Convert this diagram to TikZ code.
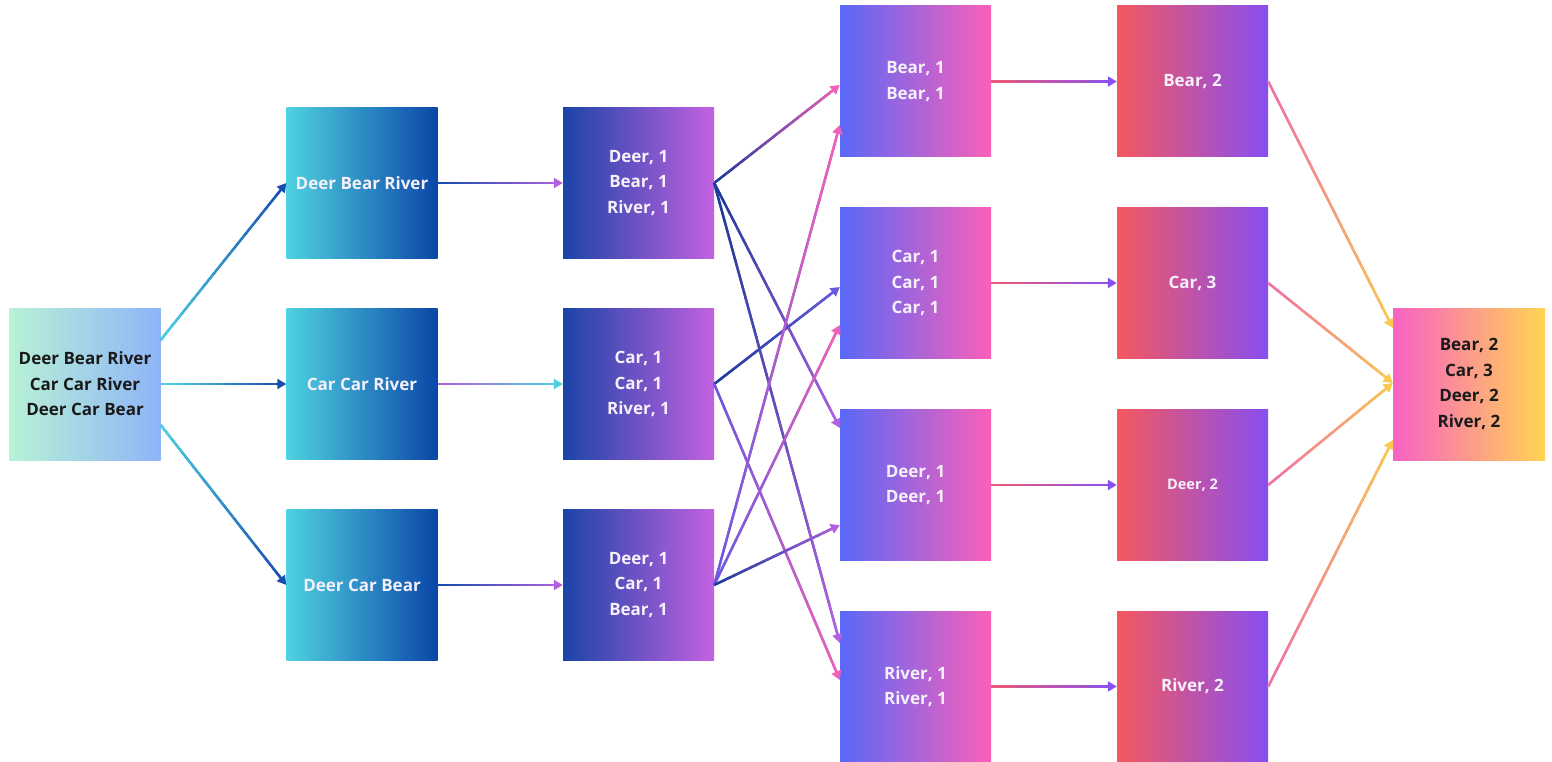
\documentclass[tikz,border=0pt]{standalone}
\usepackage{fontspec}
\setmainfont{Open Sans}
\usetikzlibrary{arrows.meta,calc}
\definecolor{inL}{HTML}{B8F2D6}
\definecolor{inR}{HTML}{8EB4F8}
\definecolor{spL}{HTML}{4ED2E0}
\definecolor{spR}{HTML}{0B46A8}
\definecolor{mpL}{HTML}{1A44A8}
\definecolor{mpR}{HTML}{C462E2}
\definecolor{shL}{HTML}{5A68F8}
\definecolor{shR}{HTML}{FA60B8}
\definecolor{rdL}{HTML}{F4585E}
\definecolor{rdR}{HTML}{884EF2}
\definecolor{otL}{HTML}{F862C4}
\definecolor{otR}{HTML}{FFD452}
\definecolor{cyanA}{HTML}{4CCFE0}
\definecolor{dblue}{HTML}{1A4CB0}
\definecolor{navy}{HTML}{1E3C9A}
\definecolor{violet}{HTML}{B060E0}
\definecolor{bviolet}{HTML}{6A5AE0}
\definecolor{pinkA}{HTML}{F060B8}
\definecolor{redA}{HTML}{E85A78}
\definecolor{purA}{HTML}{8A4FF0}
\definecolor{pinkB}{HTML}{F070A8}
\definecolor{yelB}{HTML}{F8C850}
\definecolor{txtW}{HTML}{F6F0FA}
\definecolor{txtK}{HTML}{1A1A1A}
\tikzset{
  box/.style={minimum width=151pt, minimum height=151pt, inner sep=0pt, align=center,
    font=\bfseries\fontsize{17}{25.5}\selectfont, text=txtW, shading=axis, shading angle=90},
  inbox/.style={box, left color=inL, right color=inR, text=txtK, minimum height=152pt},
  spbox/.style={box, left color=spL, right color=spR},
  mpbox/.style={box, left color=mpL, right color=mpR},
  shbox/.style={box, left color=shL, right color=shR},
  rdbox/.style={box, left color=rdL, right color=rdR},
  otbox/.style={box, left color=otL, right color=otR, text=txtK, minimum width=152pt, minimum height=152pt},
  conn/.style={line width=2.4pt}
}
\newcommand\garrow[4]{%
  \draw[conn,draw={#4!50!#3},shorten >=6pt] (#1) -- (#2);
  \foreach \i in {0,...,11}{%
    \pgfmathsetmacro\ga{\i/12}%
    \pgfmathsetmacro\gb{(\i+1)/12+0.003}%
    \pgfmathtruncatemacro\gp{\i*100/11}%
    \ifnum\i<11
      \draw[conn,draw={#4!\gp!#3}] ($(#1)!\ga!(#2)$) -- ($(#1)!\gb!(#2)$);
    \else
      \draw[conn,draw={#4!\gp!#3},-{Triangle[length=9pt,width=10pt]}] ($(#1)!\ga!(#2)$) -- (#2);
    \fi
  }}
\begin{document}
\begin{tikzpicture}[x=1pt,y=-1pt]
\useasboundingbox[fill=white] (0,0) rectangle (1552,762);
% boxes
\node[inbox] (in) at (85,384) {Deer Bear River\\Car Car River\\Deer Car Bear};
\node[spbox] (s1) at (362,183) {Deer Bear River};
\node[spbox] (s2) at (362,384) {Car Car River};
\node[spbox] (s3) at (362,585) {Deer Car Bear};
\node[mpbox] (m1) at (638.5,183) {Deer, 1\\Bear, 1\\River, 1};
\node[mpbox] (m2) at (638.5,384) {Car, 1\\Car, 1\\River, 1};
\node[mpbox] (m3) at (638.5,585) {Deer, 1\\Car, 1\\Bear, 1};
\node[shbox] (h1) at (915.5,81.5) {Bear, 1\\Bear, 1};
\node[shbox] (h2) at (915.5,283) {Car, 1\\Car, 1\\Car, 1};
\node[shbox] (h3) at (915.5,485) {Deer, 1\\Deer, 1};
\node[shbox] (h4) at (915.5,686.5) {River, 1\\River, 1};
\node[rdbox] (r1) at (1192.5,81.5) {Bear, 2};
\node[rdbox] (r2) at (1192.5,283) {Car, 3};
\node[rdbox,font=\bfseries\fontsize{14.5}{20}\selectfont] (r3) at (1192.5,485) {Deer, 2};
\node[rdbox] (r4) at (1192.5,686.5) {River, 2};
\node[otbox] (out) at (1469,384) {Bear, 2\\Car, 3\\Deer, 2\\River, 2};
% anchor points
\coordinate (inA) at ([yshift=44pt]in.east);
\coordinate (inC) at ([yshift=-41pt]in.east);
\coordinate (h1a) at ([yshift=-3.5pt]h1.west);
\coordinate (h1b) at ([yshift=-43.5pt]h1.west);
\coordinate (h2a) at ([yshift=-4pt]h2.west);
\coordinate (h2b) at ([yshift=-42pt]h2.west);
\coordinate (h3a) at ([yshift=57pt]h3.west);
\coordinate (h3b) at ([yshift=-40pt]h3.west);
\coordinate (h4a) at ([yshift=43.5pt]h4.west);
\coordinate (h4b) at ([yshift=6.5pt]h4.west);
\coordinate (oA) at ([yshift=56pt]out.west);
\coordinate (oB) at ([yshift=1pt]out.west);
\coordinate (oC) at ([yshift=-56pt]out.west);
% input -> split
\garrow{inA}{s1.west}{cyanA}{dblue}
\garrow{in.east}{s2.west}{cyanA}{dblue}
\garrow{inC}{s3.west}{cyanA}{dblue}
% split -> map
\garrow{s1.east}{m1.west}{dblue}{violet}
\garrow{s2.east}{m2.west}{violet}{cyanA}
\garrow{s3.east}{m3.west}{dblue}{violet}
% map -> shuffle
\garrow{m1.east}{h1a}{navy}{pinkA}
\garrow{m1.east}{h3a}{navy}{violet}
\garrow{m1.east}{h4a}{navy}{violet}
\garrow{m2.east}{h2a}{navy}{bviolet}
\garrow{m2.east}{h4b}{bviolet}{pinkA}
\garrow{m3.east}{h1b}{bviolet}{pinkA}
\garrow{m3.east}{h2b}{bviolet}{pinkA}
\garrow{m3.east}{h3b}{navy}{violet}
% shuffle -> reduce
\garrow{h1.east}{r1.west}{redA}{purA}
\garrow{h2.east}{r2.west}{redA}{purA}
\garrow{h3.east}{r3.west}{redA}{purA}
\garrow{h4.east}{r4.west}{redA}{purA}
% reduce -> output
\garrow{r1.east}{oA}{pinkB}{yelB}
\garrow{r2.east}{oB}{pinkB}{yelB}
\garrow{r3.east}{oB}{pinkB}{yelB}
\garrow{r4.east}{oC}{pinkB}{yelB}
\end{tikzpicture}
\end{document}
